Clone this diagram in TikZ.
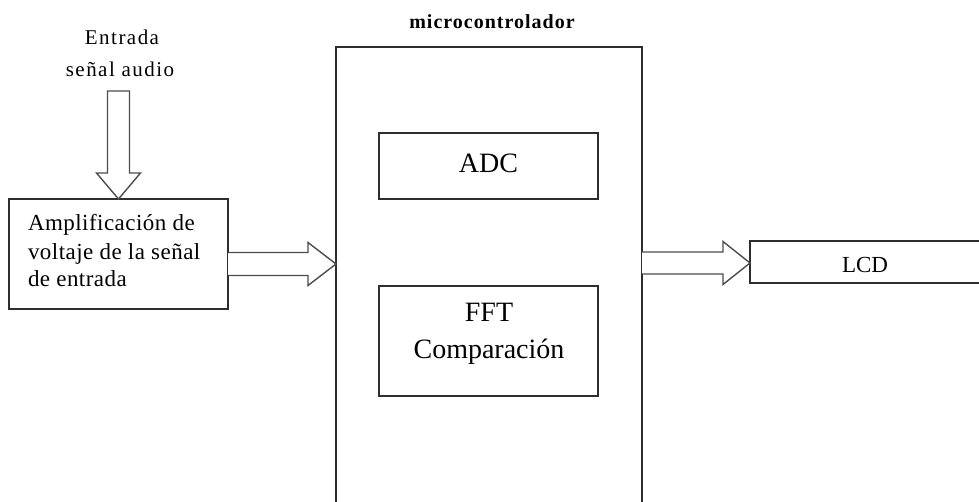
\documentclass[tikz,border=0pt]{standalone}
\usepackage{fontspec}
\setmainfont{Liberation Serif}
\newfontfamily\spacedE[LetterSpace=7]{Liberation Serif}
\newfontfamily\spacedA[LetterSpace=2]{Liberation Serif}
\newfontfamily\spacedB[LetterSpace=5]{Liberation Serif}
\usetikzlibrary{calc}
\begin{document}
\begin{tikzpicture}[x=1pt,y=-1pt,
  box/.style={draw=black!82, line width=1.5pt, rectangle, inner sep=0pt, outer sep=0pt},
  barrow/.style={draw=black!70, line width=1.4pt, line join=miter, fill=white},
  lbl/.style={anchor=base, inner sep=0pt, outer sep=0pt}]
\useasboundingbox (0,0) rectangle (979,502);
\clip (0,0) rectangle (979,502);
\fill[white] (0,0) rectangle (979,502);

% boxes
\node[box, anchor=north west, minimum width=219, minimum height=110] (amp) at (9,199) {};
\node[box, anchor=north west, minimum width=306, minimum height=520] (mc) at (336,47) {};
\node[box, anchor=north west, minimum width=219, minimum height=66] (adc) at (379,133) {};
\node[box, anchor=north west, minimum width=219, minimum height=110] (fft) at (379,286) {};
\node[box, anchor=north west, minimum width=300, minimum height=42] (lcd) at (750,241) {};

% texts
\node[lbl] (in1) at (122,45) {\spacedE\fontsize{21}{24}\selectfont Entrada};
\node[lbl] (in2) at (120,77) {\spacedE\fontsize{21}{24}\selectfont señal audio};
\node[lbl, anchor=base west] (amp1) at (28,231) {\spacedA\fontsize{23}{26}\selectfont Amplificación de};
\node[lbl, anchor=base west] (amp2) at (28,260) {\spacedA\fontsize{23}{26}\selectfont voltaje de la señal};
\node[lbl, anchor=base west] (amp3) at (28,287) {\spacedA\fontsize{23}{26}\selectfont de entrada};
\node[lbl] (mct) at (492,29) {\spacedB\bfseries\fontsize{20}{24}\selectfont microcontrolador};
\node[lbl] (adct) at (488.5,173) {\fontsize{28}{32}\selectfont ADC};
\node[lbl] (fft1) at (489,322) {\fontsize{28}{32}\selectfont FFT};
\node[lbl] (fft2) at (489,358) {\fontsize{28}{32}\selectfont Comparación};
\node[lbl] (lcdt) at (865,273) {\fontsize{23}{28}\selectfont LCD};

% block arrows
\coordinate (dtop) at (0,91);
\coordinate (y1) at (0,264);
\coordinate (y2) at (0,263);
\coordinate (d0) at (amp.north |- dtop);
\draw[barrow] ($(d0)+(-11,0)$) -- ($(amp.north)+(-11,-26)$) -- ($(amp.north)+(-22,-26)$)
  -- (amp.north) -- ($(amp.north)+(22,-26)$) -- ($(amp.north)+(11,-26)$) -- ($(d0)+(11,0)$) -- cycle;

\coordinate (a1s) at (amp.east |- y1);
\coordinate (a1t) at (mc.west |- y1);
\draw[barrow] ($(a1s)+(0,-11.5)$) -- ($(a1t)+(-28,-11.5)$) -- ($(a1t)+(-28,-21.5)$) -- (a1t)
  -- ($(a1t)+(-28,21.5)$) -- ($(a1t)+(-28,11.5)$) -- ($(a1s)+(0,11.5)$);

\coordinate (a2s) at (mc.east |- y2);
\coordinate (a2t) at (lcd.west |- y2);
\draw[barrow] ($(a2s)+(0,-11)$) -- ($(a2t)+(-27,-11)$) -- ($(a2t)+(-27,-21.5)$) -- (a2t)
  -- ($(a2t)+(-27,21.5)$) -- ($(a2t)+(-27,11)$) -- ($(a2s)+(0,11)$);
\end{tikzpicture}
\end{document}
